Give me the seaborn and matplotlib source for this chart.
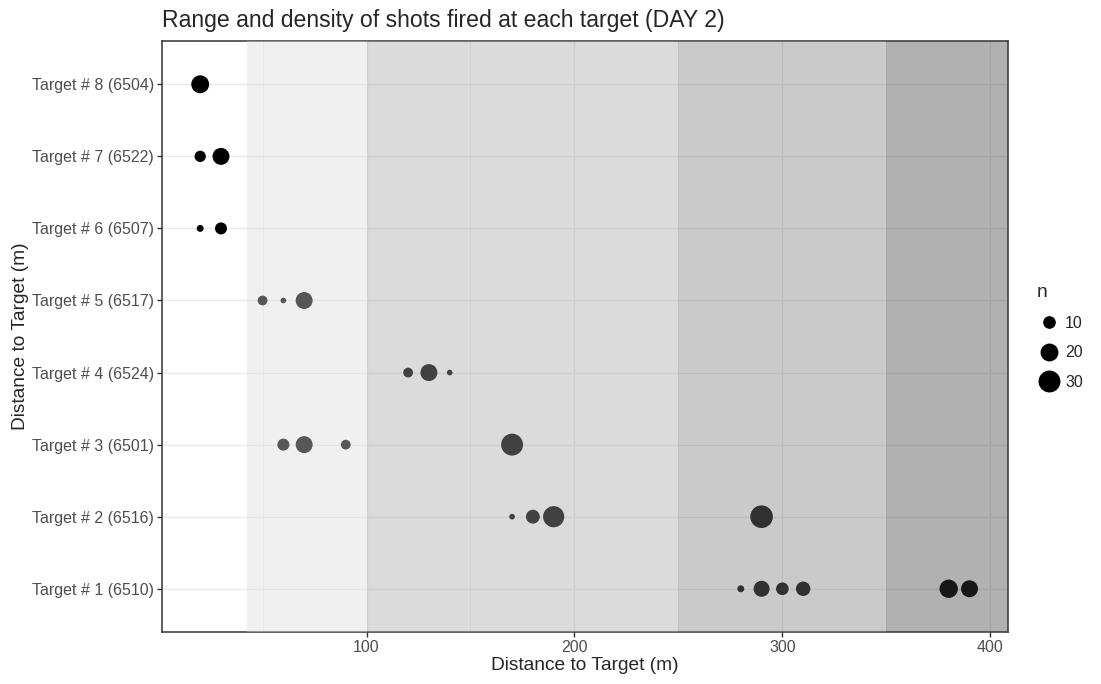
import numpy as np
import pandas as pd
import matplotlib

matplotlib.use("Agg")

import matplotlib.pyplot as plt
from matplotlib.lines import Line2D
from matplotlib.ticker import MultipleLocator
import seaborn as sns


# targets, bottom to top
target_labels = [
    "Target # 1 (6510)",
    "Target # 2 (6516)",
    "Target # 3 (6501)",
    "Target # 4 (6524)",
    "Target # 5 (6517)",
    "Target # 6 (6507)",
    "Target # 7 (6522)",
    "Target # 8 (6504)",
]

# one row per (target, distance) group of shots
shot_target = (
    ["Target # 1 (6510)"] * 6
    + ["Target # 2 (6516)"] * 4
    + ["Target # 3 (6501)"] * 4
    + ["Target # 4 (6524)"] * 3
    + ["Target # 5 (6517)"] * 3
    + ["Target # 6 (6507)"] * 2
    + ["Target # 7 (6522)"] * 2
    + ["Target # 8 (6504)"] * 1
)
shot_distance = [
    280, 290, 300, 310, 380, 390,
    170, 180, 190, 290,
    60, 70, 90, 170,
    120, 130, 140,
    50, 60, 70,
    20, 30,
    20, 30,
    20,
]
shot_n = [
    3, 16, 10, 13, 21, 18,
    2, 12, 28, 32,
    9, 18, 6, 30,
    6, 18, 2,
    6, 2, 18,
    3, 9,
    8, 18,
    20,
]

legend_n = [10, 20, 30]

# distance bands shaded over the panel
band_start = [42.5, 100, 250, 350]
band_end = [100, 250, 350, 450]
band_grey = ["#d8dbd8", "#a5a5a5", "#7c7c7c", "#3c3c3c"]

df = pd.DataFrame({"target": shot_target, "distance": shot_distance, "n": shot_n})
df["target"] = pd.Categorical(df["target"], categories=target_labels, ordered=True)
df = df.sort_values("target")
df["target"] = df["target"].astype(str)

sns.set_style("white")
plt.rcParams["font.family"] = ["Liberation Sans", "DejaVu Sans"]

AREA_PER_N = 8.3

fig = plt.figure(figsize=(11.01, 6.84), dpi=100)
ax = fig.add_axes([0.1469, 0.076, 0.7686, 0.864])

sns.scatterplot(
    data=df,
    x="distance",
    y="target",
    size="n",
    sizes=(0, AREA_PER_N * 40),
    size_norm=(0, 40),
    color="black",
    linewidth=0,
    legend=False,
    zorder=2,
    ax=ax,
)

for x0, x1, c in zip(band_start, band_end, band_grey):
    ax.axvspan(x0, x1, color=c, alpha=0.4, linewidth=0, zorder=3)

ax.set_xlim(1.5, 408.5)
ax.set_ylim(-0.6, len(target_labels) - 0.4)
ax.xaxis.set_major_locator(MultipleLocator(100))
ax.xaxis.set_minor_locator(MultipleLocator(50))

ax.set_axisbelow(True)
ax.grid(which="major", axis="both", color="#ebebeb", linewidth=1.0, zorder=0)
ax.grid(which="minor", axis="x", color="#ebebeb", linewidth=0.5, zorder=0)

for side in ax.spines.values():
    side.set_color("#333333")
    side.set_linewidth(1.1)

ax.tick_params(axis="both", which="major", length=3.5, width=1.0, color="#333333",
               labelsize=11.5, labelcolor="#4d4d4d", pad=2, left=True, bottom=True)
ax.tick_params(axis="x", which="minor", length=0)

ax.set_xlabel("Distance to Target (m)", fontsize=13.8, labelpad=2)
ax.set_ylabel("Distance to Target (m)", fontsize=13.8, labelpad=2)
ax.set_title("Range and density of shots fired at each target (DAY 2)",
             loc="left", fontsize=16.6, pad=10)

handles = [
    Line2D([], [], marker="o", linestyle="", color="black",
           markersize=np.sqrt(AREA_PER_N * v), markeredgewidth=0)
    for v in legend_n
]
leg = fig.legend(
    handles,
    [str(v) for v in legend_n],
    title="n",
    loc="upper left",
    bbox_to_anchor=(1030 / 1101, 1 - 278 / 684),
    frameon=False,
    fontsize=11.5,
    title_fontsize=13.8,
    labelspacing=0.9,
    handletextpad=0.2,
    handlelength=1.6,
    borderaxespad=0,
)
leg._legend_box.align = "left"

fig.savefig("out.png", dpi=100)
